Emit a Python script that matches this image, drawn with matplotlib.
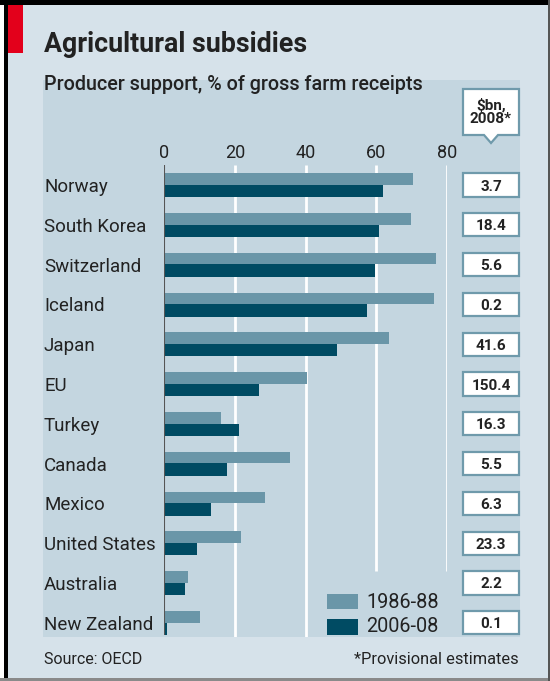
import matplotlib
matplotlib.use('Agg')
import matplotlib.pyplot as plt
import matplotlib.patches as mpatches
from matplotlib.transforms import blended_transform_factory
import numpy as np

# data
countries = ['Norway', 'South Korea', 'Switzerland', 'Iceland', 'Japan', 'EU',
             'Turkey', 'Canada', 'Mexico', 'United States', 'Australia', 'New Zealand']
support_1986 = [70.3, 69.7, 77.0, 76.4, 63.6, 40.3, 16.1, 35.6, 28.6, 21.8, 6.7, 10.2]
support_2006 = [62.0, 60.7, 59.7, 57.5, 48.8, 26.9, 21.1, 17.9, 13.3, 9.3, 6.0, 0.8]
bn_2008 = ['3.7', '18.4', '5.6', '0.2', '41.6', '150.4', '16.3', '5.5', '6.3', '23.3', '2.2', '0.1']
xticks = [0, 20, 40, 60, 80]

W, H = 550, 681
BG = '#d6e2ea'
PANEL = '#c4d6e0'
LIGHT = '#6a96a8'
DARK = '#004b63'
TXT = '#222222'

plt.rcParams['font.family'] = ['Roboto', 'DejaVu Sans']


def fx(px):
    return px / W


def fy(py):
    return 1 - py / H


def frect(x0, y0, x1, y1, **kw):
    return mpatches.Rectangle((fx(x0), fy(y1)), fx(x1) - fx(x0), fy(y0) - fy(y1),
                              transform=fig.transFigure, **kw)


fig = plt.figure(figsize=(W / 100, H / 100), dpi=100, facecolor='white')

# frame
fig.patches.append(frect(8, 5, 548, 678, facecolor=BG, edgecolor='none'))
fig.patches.append(frect(0, 0, 550, 5, facecolor='black', edgecolor='none'))
fig.patches.append(frect(4, 0, 8, 681, facecolor='black', edgecolor='none'))
fig.patches.append(frect(0, 678, 550, 681, facecolor='#8a8a8a', edgecolor='none'))
fig.patches.append(frect(548, 0, 550, 681, facecolor='#555555', edgecolor='none'))
fig.patches.append(frect(8, 5, 23, 53, facecolor='#e3001b', edgecolor='none'))
fig.patches.append(frect(43, 80, 520, 637, facecolor=PANEL, edgecolor='none'))

fig.text(fx(44), fy(45), 'Agricultural subsidies', fontsize=19.3, fontweight='bold',
         color=TXT, va='center', ha='left')
fig.text(fx(44), fy(85), 'Producer support, % of gross farm receipts', fontsize=14.2,
         fontweight='medium', color=TXT, va='center', ha='left')

# axes: x 0..80 over px 164..447, group centres at 185 + 39.8*i
top_px, bot_px = 165, 637
ax = fig.add_axes([fx(164), fy(bot_px), fx(447) - fx(164), fy(top_px) - fy(bot_px)])
ax.set_zorder(5)
ax.patch.set_alpha(0)
ax.set_xlim(0, 80)
ax.set_ylim((bot_px - 185) / 39.8, (top_px - 185) / 39.8)
for s in ax.spines.values():
    s.set_visible(False)

idx = np.arange(len(countries))
ylo, yhi = ax.get_ylim()
leg_top = (571 - 185) / 39.8
for t in xticks[1:]:
    ax.vlines(t, yhi, ylo if t <= 40 else leg_top, color='white', lw=2, zorder=1)

ax.barh(idx - 0.15, support_1986, height=0.29, color=LIGHT, zorder=2)
ax.barh(idx + 0.15, support_2006, height=0.31, color=DARK, zorder=2)
ax.vlines(0, yhi, (635 - 185) / 39.8, color='#555555', lw=1.5, zorder=3)

ax.xaxis.tick_top()
ax.set_xticks(xticks)
ax.tick_params(axis='x', length=0, pad=2, labelsize=13, labelcolor=TXT)
ax.set_yticks([])

bt = blended_transform_factory(fig.transFigure, ax.transData)
for i, name in enumerate(countries):
    ax.text(fx(44), i, name, transform=bt, fontsize=13.5, color=TXT,
            ha='left', va='center_baseline')
    ax.add_patch(mpatches.Rectangle((fx(463), i - 0.29), fx(519) - fx(463), 0.58,
                                    transform=bt, facecolor='white', edgecolor='#6f9aab',
                                    lw=1.6, clip_on=False, zorder=4))
    ax.text(fx(491), i, bn_2008[i], transform=bt, fontsize=11, fontweight='bold',
            color=TXT, ha='center', va='center_baseline', zorder=5)

# callout box
pts = [(463, 89), (519, 89), (519, 135), (498, 135), (491, 143), (484, 135), (463, 135)]
fig.patches.append(mpatches.Polygon([(fx(a), fy(b)) for a, b in pts], closed=True,
                                    transform=fig.transFigure, facecolor='white',
                                    edgecolor='#6f9aab', lw=1.6))
fig.text(fx(491), fy(112), '$bn,\n2008*', fontsize=11, fontweight='bold', color=TXT,
         ha='center', va='center', linespacing=1.0)

# legend
fig.patches.append(frect(327, 594, 358, 609, facecolor=LIGHT, edgecolor='none'))
fig.patches.append(frect(327, 619, 358, 635, facecolor=DARK, edgecolor='none'))
fig.text(fx(366), fy(602), '1986-88', fontsize=14.3, color=TXT, va='center', ha='left')
fig.text(fx(366), fy(627), '2006-08', fontsize=14.3, color=TXT, va='center', ha='left')

fig.text(fx(44), fy(660), 'Source: OECD', fontsize=11.5, color=TXT, va='center', ha='left')
fig.text(fx(519), fy(660), '*Provisional estimates', fontsize=11.8, color=TXT,
         va='center', ha='right')

fig.savefig('out.png', dpi=100, facecolor=fig.get_facecolor())
